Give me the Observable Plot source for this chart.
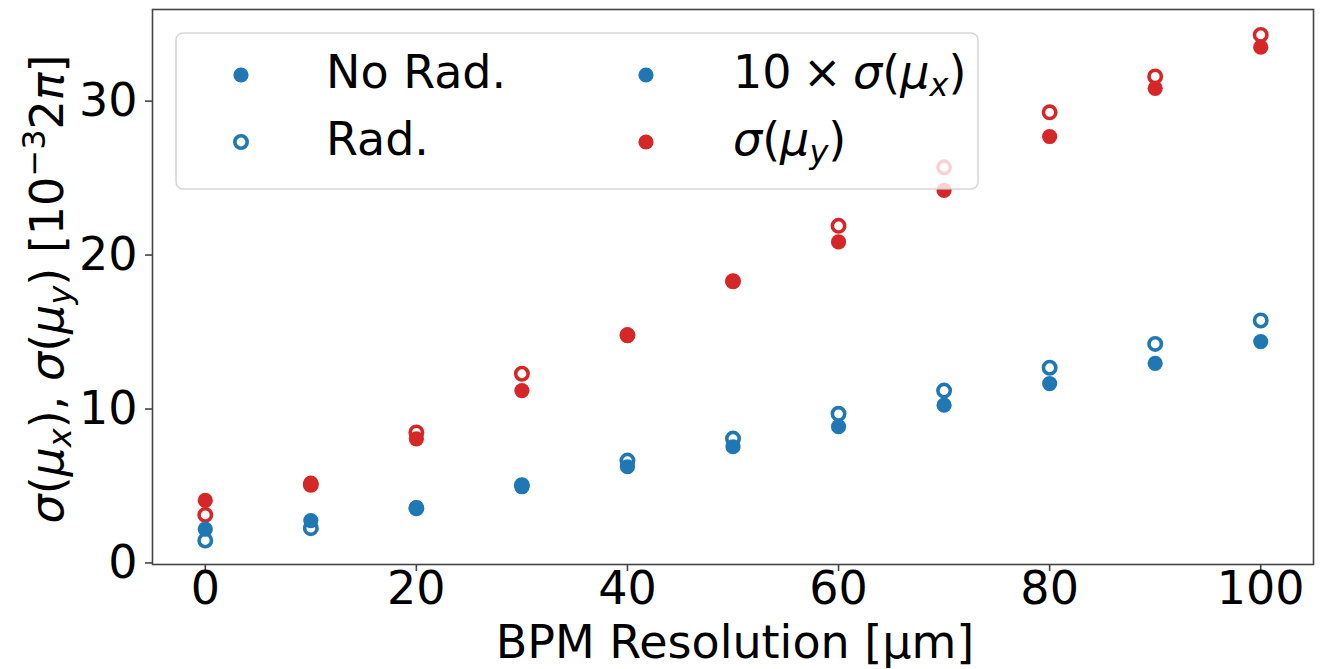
<!DOCTYPE html>
<html><head><meta charset="utf-8">
<script src="https://cdn.jsdelivr.net/npm/d3@7"></script>
<script src="https://cdn.jsdelivr.net/npm/@observablehq/plot@0.6"></script>
<style>body{margin:0;background:#fff} #chart svg{display:block}</style>
</head><body><div id="chart"></div>
<script>
// BPM resolution [µm]
const resolution = [0, 10, 20, 30, 40, 50, 60, 70, 80, 90, 100];
// 10 × σ(μx), [10^-3 2π]
const muxNoRad = [2.2, 2.75, 3.6, 4.95, 6.25, 7.55, 8.85, 10.25, 11.65, 12.97, 14.38];
const muxRad   = [1.46, 2.26, 3.55, 5.05, 6.65, 8.08, 9.69, 11.2, 12.68, 14.23, 15.75];
// σ(μy), [10^-3 2π]
const muyNoRad = [4.06, 5.18, 8.06, 11.2, 14.77, 18.3, 20.85, 24.2, 27.7, 30.83, 33.5];
const muyRad   = [3.12, 5.08, 8.48, 12.29, 14.8, 18.3, 21.9, 25.7, 29.27, 31.6, 34.3];

const xTicks = [0, 20, 40, 60, 80, 100];
const yTicks = [0, 10, 20, 30];
const seriesNames = ["mux", "muy"];
const seriesColors = ["#1f77b4", "#d62728"];

function rowsOf(values, series) {
  return values.map((v, i) => ({res: resolution[i], value: v, series}));
}
const openRows = [...rowsOf(muxRad, "mux"), ...rowsOf(muyRad, "muy")];
const filledRows = [...rowsOf(muxNoRad, "mux"), ...rowsOf(muyNoRad, "muy")];

const plot = Plot.plot({
  width: 1331, height: 669,
  marginLeft: 152, marginRight: 18, marginTop: 9, marginBottom: 105,
  style: {fontFamily: "DejaVu Sans", fontSize: "46px", color: "#000", background: "#fff"},
  x: {domain: [-5, 105]},
  y: {domain: [-0.1, 35.95]},
  color: {domain: seriesNames, range: seriesColors},
  marks: [
    Plot.axisX({ticks: xTicks, tickSize: 7, tickPadding: 0, label: null, tickFormat: d => String(d), stroke: "#444", strokeWidth: 1.6}),
    Plot.axisY({ticks: yTicks, tickSize: 7, tickPadding: 8, label: null, tickFormat: d => String(d), stroke: "#444", strokeWidth: 1.6}),
    Plot.dot(openRows, {x: "res", y: "value", stroke: "series", r: 6.2, strokeWidth: 3.6, fill: "none"}),
    Plot.dot(filledRows, {x: "res", y: "value", fill: "series", r: 7.6, stroke: "none"}),
    Plot.frame({stroke: "#444", strokeWidth: 1.6})
  ]
});

const svg = d3.select(plot);
const font = "DejaVu Sans";

// x label
svg.append("text")
  .attr("x", 735).attr("y", 658)
  .attr("text-anchor", "middle")
  .attr("font-family", font).attr("font-size", 46).attr("fill", "#000")
  .text("BPM Resolution [μm]");

function mathText(sel, parts) {
  parts.forEach(p => {
    const t = sel.append("tspan").text(p.t);
    if (p.i) t.attr("font-style", "italic");
    if (p.s) t.attr("font-size", p.s);
    if (p.dy) t.attr("dy", p.dy);
  });
}
// y label (rotated)
const ylab = svg.append("text")
  .attr("transform", "translate(63,289) rotate(-90)")
  .attr("text-anchor", "middle")
  .attr("font-family", font).attr("font-size", 46).attr("fill", "#000");
mathText(ylab, [
  {t: "σ", i: 1}, {t: "("}, {t: "μ", i: 1}, {t: "x", i: 1, s: 32, dy: 8}, {t: "), ", dy: -8},
  {t: "σ", i: 1}, {t: "("}, {t: "μ", i: 1}, {t: "y", i: 1, s: 32, dy: 8}, {t: ") [10", dy: -8},
  {t: "−3", s: 32, dy: -18}, {t: "2", dy: 18}, {t: "π", i: 1}, {t: "]"}
]);

// legend
const lg = svg.append("g");
lg.append("rect")
  .attr("x", 176).attr("y", 33).attr("width", 802).attr("height", 156).attr("rx", 7)
  .attr("fill", "#fff").attr("fill-opacity", 0.8)
  .attr("stroke", "#ccc").attr("stroke-opacity", 0.8).attr("stroke-width", 1.6);
lg.append("circle").attr("cx", 241).attr("cy", 75).attr("r", 7.6).attr("fill", seriesColors[0]);
lg.append("circle").attr("cx", 241).attr("cy", 142).attr("r", 6.2).attr("fill", "none")
  .attr("stroke", seriesColors[0]).attr("stroke-width", 3.6);
lg.append("circle").attr("cx", 646).attr("cy", 75).attr("r", 7.6).attr("fill", seriesColors[0]);
lg.append("circle").attr("cx", 646).attr("cy", 142).attr("r", 7.6).attr("fill", seriesColors[1]);
function lgText(x, y) {
  return lg.append("text").attr("x", x).attr("y", y)
    .attr("text-anchor", "start")
    .attr("font-family", font).attr("font-size", 46).attr("fill", "#000");
}
lgText(326, 88).text("No Rad.");
lgText(326, 155).text("Rad.");
mathText(lgText(733, 88), [
  {t: "10\u2005×\u2005"}, {t: "σ", i: 1}, {t: "("}, {t: "μ", i: 1}, {t: "x", i: 1, s: 32, dy: 8}, {t: ")", dy: -8}
]);
mathText(lgText(733, 155), [
  {t: "σ", i: 1}, {t: "("}, {t: "μ", i: 1}, {t: "y", i: 1, s: 32, dy: 8}, {t: ")", dy: -8}
]);

document.getElementById("chart").appendChild(plot);
</script>
</body></html>
